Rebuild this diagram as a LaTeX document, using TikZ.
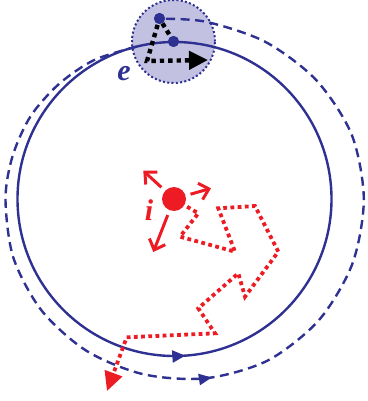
\documentclass[tikz,border=0pt]{standalone}
\usepackage{fontspec}
\setmainfont{Liberation Serif}
\usetikzlibrary{arrows.meta,decorations.markings}
\definecolor{navy}{HTML}{2E3192}
\definecolor{rred}{HTML}{ED1C24}
\definecolor{lav}{HTML}{C3C1E1}
\tikzset{
  orbit/.style={navy, line width=2.4pt},
  dotnode/.style={circle, fill=navy, inner sep=0pt, minimum size=11pt},
  walkred/.style={rred, line width=3.8pt, dash pattern=on 3.8pt off 3.4pt, line join=miter},
  walkblack/.style={black, line width=4.4pt, dash pattern=on 4.4pt off 4pt, line join=miter},
  kick/.style={rred, line width=3pt, -{Straight Barb[length=9pt,width=17pt]}, shorten <=5pt},
  lbl/.style={font=\fontsize{30}{30}\selectfont\bfseries\itshape, inner sep=0pt, anchor=base}
}
\begin{document}
\begin{tikzpicture}[x=1pt,y=-1pt]
\useasboundingbox (0,0) rectangle (367,401);
% electron neighbourhood
\fill[lav] (173.5,41.5) circle[radius=41.5pt];
% solid orbit
\draw[orbit, postaction={decorate}, decoration={markings, mark=at position 0.761 with {\arrow{Triangle[length=13pt,width=12pt]}}}]
  (174.5,199) circle[radius=157pt];
% dashed spiral orbit
\begin{scope}[shift={(174.5,199)}]
\draw[orbit, dash pattern=on 9pt off 5.5pt, postaction={decorate}, decoration={markings, mark=at position 0.485 with {\arrow{Triangle[length=13pt,width=11pt]}}}]
  plot[smooth] coordinates {(-104:157) (-120:160.5) (-135:163) (-150:166) (-165:167.5) (-180:169) (-200:171.5) (-220:173.5) (-240:175.5) (-260:178) (-280:182) (-300:186.5) (-320:188.5) (-340:189.3) (-360:189.3) (-380:188.5) (-400:185) (-420:181.5) (-440:180) (-455:181)};
\end{scope}
% dotted border
\draw[navy, line width=2pt, dash pattern=on 2pt off 2.3pt] (173.5,41.5) circle[radius=41.5pt];
% electron dots
\node[dotnode] (e1) at (173.5,41.5) {};
\node[dotnode] (e2) at (159.5,18.5) {};
% black walk
\coordinate (b1) at (147,61);
\coordinate (b2) at (208,60);
\draw[walkblack, -{Triangle[length=19pt,width=18pt]}] (e1.center) -- (e2.center) -- (b1) -- (b2);
\node[dotnode] at (e1) {};
\node[dotnode] at (e2) {};
\node[lbl, navy] (elab) at (124,81) {e};
% ion
\node[circle, fill=rred, inner sep=0pt, minimum size=24pt] (ion) at (174,199) {};
\coordinate (k1) at (143.3,170.7);
\coordinate (k2) at (211,188.3);
\coordinate (k3) at (153.3,252);
\draw[kick] (ion) -- (k1);
\draw[kick] (ion) -- (k2);
\draw[kick] (ion) -- (k3);
\node[lbl, rred] (ilab) at (149,220) {i};
% red walk
\coordinate (r1) at (198.3,213.3);
\coordinate (r2) at (180,236.7);
\coordinate (r3) at (235,251.7);
\coordinate (r4) at (218.3,208.3);
\coordinate (r5) at (255,206);
\coordinate (r6) at (278.3,251.7);
\coordinate (r7) at (245,296.7);
\coordinate (r8) at (238.3,273.3);
\coordinate (r9) at (198.3,308.3);
\coordinate (r10) at (215,333.3);
\coordinate (r11) at (126.7,337.3);
\coordinate (r12) at (107,391);
\draw[walkred, shorten <=3pt, -{Triangle[length=19pt,width=18pt]}] (ion) -- (r1) -- (r2) -- (r3) -- (r4) -- (r5) -- (r6) -- (r7) -- (r8) -- (r9) -- (r10) -- (r11) -- (r12);
\end{tikzpicture}
\end{document}
